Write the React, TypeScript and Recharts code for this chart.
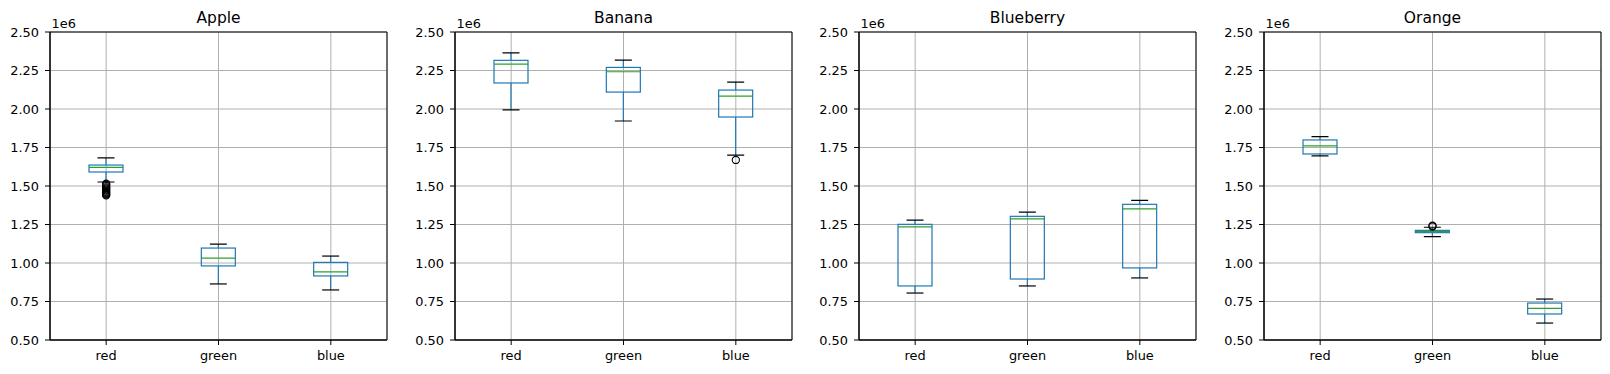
import React from 'react';
import { ComposedChart, Bar, Scatter, XAxis, YAxis, CartesianGrid, ReferenceArea } from 'recharts';

const categories = ['red', 'green', 'blue'];
const fruits = ['Apple', 'Banana', 'Blueberry', 'Orange'];
const yTicks = [0.5, 0.75, 1.0, 1.25, 1.5, 1.75, 2.0, 2.25, 2.5];
const offsetLabel = '1e6';

// values in units of 1e6; order: red, green, blue
const appleLow = [1.526, 0.864, 0.825];
const appleQ1 = [1.591, 0.981, 0.916];
const appleMed = [1.621, 1.032, 0.942];
const appleQ3 = [1.636, 1.097, 1.004];
const appleHigh = [1.682, 1.123, 1.045];
const appleOutliersRed = [1.515, 1.507, 1.499, 1.491, 1.484, 1.477, 1.47, 1.463, 1.456, 1.45, 1.444, 1.439];

const bananaLow = [1.994, 1.922, 1.701];
const bananaQ1 = [2.169, 2.11, 1.948];
const bananaMed = [2.292, 2.242, 2.084];
const bananaQ3 = [2.316, 2.27, 2.123];
const bananaHigh = [2.364, 2.318, 2.175];
const bananaOutliersBlue = [1.669];

const blueberryLow = [0.805, 0.851, 0.903];
const blueberryQ1 = [0.851, 0.896, 0.968];
const blueberryMed = [1.234, 1.286, 1.351];
const blueberryQ3 = [1.251, 1.303, 1.381];
const blueberryHigh = [1.279, 1.331, 1.407];

const orangeLow = [1.695, 1.171, 0.61];
const orangeQ1 = [1.708, 1.197, 0.669];
const orangeMed = [1.76, 1.204, 0.705];
const orangeQ3 = [1.799, 1.212, 0.74];
const orangeHigh = [1.82, 1.232, 0.766];
const orangeOutliersGreen = [1.237, 1.242];

const BLUE = '#1f77b4';
const GREEN = '#2ca02c';
const FONT = 'DejaVu Sans';
const SW = 1.2;

type Row = { cat: string; lo: number; q1: number; med: number; q3: number; hi: number };

function buildRows(lo: number[], q1: number[], med: number[], q3: number[], hi: number[]): Row[] {
  return categories.map((c, i) => ({ cat: c, lo: lo[i], q1: q1[i], med: med[i], q3: q3[i], hi: hi[i] }));
}

function buildOutliers(cat: string, vals: number[]) {
  return vals.map((v) => ({ cat, v }));
}

const panels = [
  { title: fruits[0], rows: buildRows(appleLow, appleQ1, appleMed, appleQ3, appleHigh), outliers: buildOutliers('red', appleOutliersRed), plotLeft: 50 },
  { title: fruits[1], rows: buildRows(bananaLow, bananaQ1, bananaMed, bananaQ3, bananaHigh), outliers: buildOutliers('blue', bananaOutliersBlue), plotLeft: 455 },
  { title: fruits[2], rows: buildRows(blueberryLow, blueberryQ1, blueberryMed, blueberryQ3, blueberryHigh), outliers: [] as { cat: string; v: number }[], plotLeft: 859 },
  { title: fruits[3], rows: buildRows(orangeLow, orangeQ1, orangeMed, orangeQ3, orangeHigh), outliers: buildOutliers('green', orangeOutliersGreen), plotLeft: 1264 },
];

const PLOT_W = 337;
const PLOT_TOP = 32;
const PLOT_BOTTOM = 340;
const Y_AXIS_W = 50;
const CHART_W = 400;
const CHART_H = 374;
const BOX_W = 34;
const CAP_W = 17;

const UpperWhisker = (props: any) => {
  const { x, y, width, height } = props;
  if (x == null || y == null) return null;
  const cx = x + width / 2;
  return (
    <g>
      <line x1={cx} x2={cx} y1={y} y2={y + height} stroke={BLUE} strokeWidth={SW} />
      <line x1={cx - CAP_W / 2} x2={cx + CAP_W / 2} y1={y} y2={y} stroke="#000" strokeWidth={SW} />
    </g>
  );
};

const LowerWhisker = (props: any) => {
  const { x, y, width, height } = props;
  if (x == null || y == null) return null;
  const cx = x + width / 2;
  return (
    <g>
      <line x1={cx} x2={cx} y1={y} y2={y + height} stroke={BLUE} strokeWidth={SW} />
      <line x1={cx - CAP_W / 2} x2={cx + CAP_W / 2} y1={y + height} y2={y + height} stroke="#000" strokeWidth={SW} />
    </g>
  );
};

const BoxShape = (props: any) => {
  const { x, y, width, height } = props;
  if (x == null || y == null) return null;
  return <rect x={x} y={y} width={width} height={Math.max(height, 0.5)} fill="none" stroke={BLUE} strokeWidth={SW} />;
};

const MedianShape = (props: any) => {
  const { cx, cy } = props;
  if (cx == null || cy == null) return null;
  return <line x1={cx - BOX_W / 2} x2={cx + BOX_W / 2} y1={cy} y2={cy} stroke={GREEN} strokeWidth={SW} />;
};

const OutlierShape = (props: any) => {
  const { cx, cy } = props;
  if (cx == null || cy == null) return null;
  return <circle cx={cx} cy={cy} r={3.6} fill="none" stroke="#000" strokeWidth={1.1} />;
};

const tickStyle = { fill: '#000', fontSize: 12.9, fontFamily: FONT };

function Panel({ title, rows, outliers, plotLeft }: { title: string; rows: Row[]; outliers: { cat: string; v: number }[]; plotLeft: number }) {
  const left = plotLeft - Y_AXIS_W;
  return (
    <div style={{ position: 'absolute', left, top: 0, width: CHART_W, height: CHART_H }}>
      <ComposedChart
        width={CHART_W}
        height={CHART_H}
        data={rows}
        margin={{ top: PLOT_TOP, right: CHART_W - Y_AXIS_W - PLOT_W, bottom: CHART_H - PLOT_BOTTOM - 30, left: 0 }}
      >
        <CartesianGrid stroke="#b0b0b0" strokeWidth={1} />
        <XAxis
          dataKey="cat"
          type="category"
          allowDuplicatedCategory={false}
          height={30}
          tickSize={5}
          tickMargin={6}
          interval={0}
          tick={tickStyle}
          axisLine={{ stroke: '#000', strokeWidth: 1 }}
          tickLine={{ stroke: '#000', strokeWidth: 1 }}
        />
        <XAxis xAxisId="b1" dataKey="cat" type="category" hide />
        <XAxis xAxisId="b2" dataKey="cat" type="category" hide />
        <XAxis xAxisId="b3" dataKey="cat" type="category" hide />
        <YAxis
          type="number"
          domain={[0.5, 2.5]}
          ticks={yTicks}
          interval={0}
          allowDataOverflow
          width={Y_AXIS_W}
          tickSize={5}
          tickMargin={6}
          tickFormatter={(v: number) => v.toFixed(2)}
          tick={tickStyle}
          axisLine={{ stroke: '#000', strokeWidth: 1 }}
          tickLine={{ stroke: '#000', strokeWidth: 1 }}
        />
        <Bar xAxisId="b1" dataKey={(d: Row) => [d.q3, d.hi]} barSize={BOX_W} shape={UpperWhisker} isAnimationActive={false} />
        <Bar xAxisId="b2" dataKey={(d: Row) => [d.lo, d.q1]} barSize={BOX_W} shape={LowerWhisker} isAnimationActive={false} />
        <Bar xAxisId="b3" dataKey={(d: Row) => [d.q1, d.q3]} barSize={BOX_W} shape={BoxShape} isAnimationActive={false} />
        <Scatter dataKey="med" shape={MedianShape} isAnimationActive={false} />
        {outliers.length > 0 && (
          <Scatter data={outliers} dataKey="v" shape={OutlierShape} isAnimationActive={false} />
        )}
        <ReferenceArea x1="red" x2="blue" y1={0.5} y2={2.5} fill="none" fillOpacity={0} stroke="#000" strokeWidth={1} ifOverflow="visible" />
      </ComposedChart>
      <svg width={CHART_W} height={CHART_H} style={{ position: 'absolute', left: 0, top: 0, pointerEvents: 'none' }}>
        <text x={Y_AXIS_W + PLOT_W / 2} y={22.5} textAnchor="middle" fontFamily={FONT} fontSize={15.5} fill="#000">
          {title}
        </text>
        <text x={Y_AXIS_W + 1.5} y={28.3} textAnchor="start" fontFamily={FONT} fontSize={12.9} fill="#000">
          {offsetLabel}
        </text>
      </svg>
    </div>
  );
}

export default function App() {
  return (
    <div style={{ position: 'absolute', left: 0, top: 0, width: 1610, height: 374, background: '#fff', overflow: 'hidden' }}>
      {panels.map((p) => (
        <Panel key={p.title} title={p.title} rows={p.rows} outliers={p.outliers} plotLeft={p.plotLeft} />
      ))}
    </div>
  );
}
